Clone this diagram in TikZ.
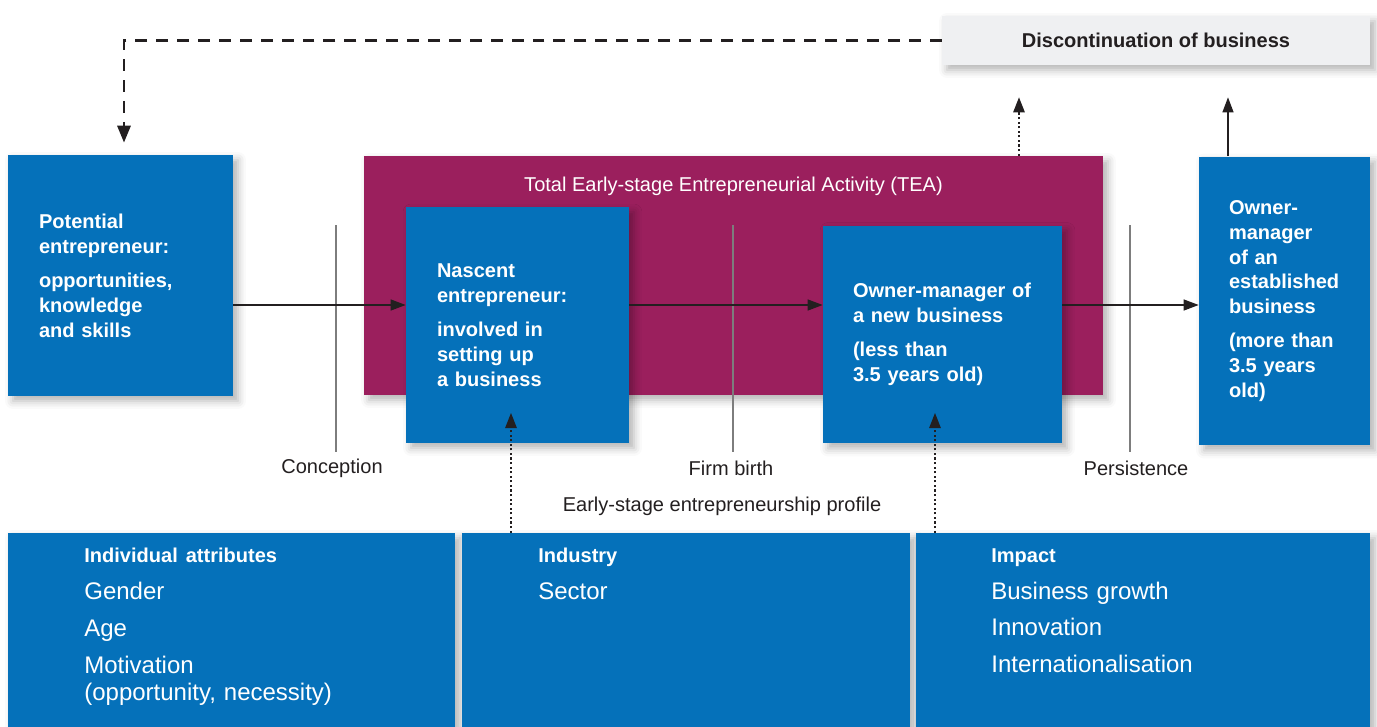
\documentclass[tikz,border=0pt]{standalone}
\usepackage{fontspec}
\setmainfont{Liberation Sans}
\usepackage{xcolor}
\usetikzlibrary{arrows.meta, calc, positioning, shadows.blur}
\definecolor{gemblue}{RGB}{5,113,186}
\definecolor{teapurple}{RGB}{155,31,93}
\definecolor{discgray}{RGB}{239,240,242}
\definecolor{inkdark}{RGB}{35,31,32}
\definecolor{stagegray}{RGB}{125,125,125}
\tikzset{
    blockshadow/.style={blur shadow={shadow xshift=0.1cm, shadow yshift=-0.1cm, shadow blur radius=0.16cm, shadow opacity=30}},
    phasebox/.style={rectangle, fill=gemblue, text=white, blockshadow, inner xsep=0.6cm, inner ysep=0pt, align=left, font=\bfseries\fontsize{11.4}{14.2}\selectfont},
    factorbox/.style={rectangle, fill=gemblue, blockshadow, minimum height=3.88cm, inner sep=0pt},
    factortext/.style={anchor=north west, inner sep=0pt, text=white, text width=7.5cm, align=left, font=\fontsize{13.66}{15.6}\selectfont},
    stagelabel/.style={inner sep=0pt, text=inkdark, font=\fontsize{11.4}{14}\selectfont},
    stageline/.style={draw=stagegray, line width=0.8pt},
    flow/.style={draw=inkdark, line width=0.75pt, -{Triangle[length=0.3cm, width=0.22cm]}},
    dotflow/.style={draw=inkdark, line width=0.7pt, dash pattern=on 1.2pt off 1.4pt, -{Triangle[length=0.3cm, width=0.23cm]}},
    feedback/.style={draw=inkdark, line width=1.7pt, dash pattern=on 6.8pt off 5.1pt, -{Triangle[length=0.34cm, width=0.26cm]}},
}
\newcommand{\hdr}[1]{{\bfseries\fontsize{11.4}{15.6}\selectfont #1}}
\begin{document}
\begin{tikzpicture}[x=0.02cm, y=-0.02cm]
    \useasboundingbox (0,0) rectangle (1377,727);

    % TEA frame
    \node[rectangle, fill=teapurple, blockshadow, minimum width=14.78cm, minimum height=4.78cm] (tea) at (733.5,275.5) {};
    \node[stagelabel, text=white] (tealabel) at ([yshift=-0.62cm]tea.north) {Total Early-stage Entrepreneurial Activity (TEA)};

    % Phases
    \node[phasebox, minimum width=4.5cm, minimum height=4.82cm, text width=3.26cm] (potential) at (120.5,275.5)
        {Potential\\ entrepreneur:\\[5.1pt] opportunities,\\ knowledge\\ and skills};
    \node[phasebox, minimum width=3.42cm, minimum height=5.78cm, text width=2.22cm] (established) at (1284.5,301)
        {Owner-\\ manager\\ of an\\ established\\ business\\[5.1pt] (more than\\ 3.5 years\\ old)};
    \node[rectangle, fill=discgray, blockshadow, minimum width=8.56cm, minimum height=0.98cm, text=inkdark,
        font=\bfseries\fontsize{11.4}{14}\selectfont] (disc) at (1156,40.5) {Discontinuation of business};

    % Profile factors
    \node[factorbox, minimum width=8.94cm] (attributes) at (231.5,630) {};
    \node[factorbox, minimum width=8.96cm] (industry) at (686,630) {};
    \node[factorbox, minimum width=9.08cm] (impact) at (1143,630) {};
    \node[factortext] (attributestext) at (84,548)
        {\hdr{Individual attributes}\\[5.4pt] Gender\\[5.4pt] Age\\[5.4pt] Motivation\\ (opportunity, necessity)};
    \node[factortext] (industrytext) at (538,548) {\hdr{Industry}\\[5.4pt] Sector};
    \node[factortext] (impacttext) at (991,548)
        {\hdr{Impact}\\[5.4pt] Business growth\\[5.4pt] Innovation\\[5.4pt] Internationalisation};

    % Stages
    \foreach \x/\dx/\name/\txt in {336/-4/conception/Conception, 733/-2/birth/Firm birth, 1130/6/persistence/Persistence} {
        \coordinate (\name-top) at (\x,225);
        \coordinate (\name-bot) at (\x,452);
        \draw[stageline] (\name-top) -- (\name-bot);
        \node[stagelabel] (\name) at ($(\name-bot)+(\dx,16)$) {\txt};
    }
    \node[stagelabel] (profile) at (722,506) {Early-stage entrepreneurship profile};

    \node[phasebox, minimum width=4.46cm, minimum height=4.72cm, text width=3.22cm] (nascent) at (517.5,325)
        {Nascent\\ entrepreneur:\\[5.1pt] involved in\\ setting up\\ a business};
    \node[phasebox, minimum width=4.78cm, minimum height=4.36cm, text width=3.58cm] (newbiz) at (942.5,334.5)
        {Owner-manager of\\ a new business\\[5.1pt] (less than\\ 3.5 years old)};

    % Flow
    \coordinate (flowline) at (0,305);
    \draw[flow] (potential.east |- flowline) -- (nascent.west |- flowline);
    \draw[flow] (nascent.east |- flowline) -- (newbiz.west |- flowline);
    \draw[flow] (newbiz.east |- flowline) -- (established.west |- flowline);

    % Exits
    \coordinate (teaexit) at (1019,0);
    \coordinate (estexit) at (1228,0);
    \coordinate (back) at (124,0);
    \draw[dotflow, shorten >=0.64cm] (tea.north -| teaexit) -- (disc.south -| teaexit);
    \draw[flow, shorten >=0.64cm] (established.north -| estexit) -- (disc.south -| estexit);
    \draw[feedback, shorten >=0.24cm] (disc.west) -| (potential.north -| back);

    % Factors feeding the phases
    \coordinate (industrytip) at (511,413);
    \coordinate (impacttip) at (935,413);
    \draw[dotflow] (industry.north -| industrytip) -- (industrytip);
    \draw[dotflow] (impact.north -| impacttip) -- (impacttip);
\end{tikzpicture}
\end{document}
